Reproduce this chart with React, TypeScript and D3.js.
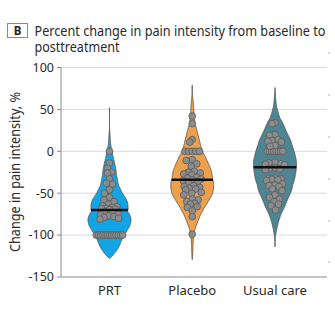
import React from "react";
import * as d3 from "d3";

const categories = ["PRT", "Placebo", "Usual care"];

const prtValues = [
  0, -14, -20, -25, -26, -33, -38, -39, -46, -50, -55, -58, -60, -63, -65, -66,
  -67, -68, -68.5, -69, -69.5, -72, -73, -75, -76, -77, -78, -79, -80, -81,
  -100, -100, -100, -100, -100, -100, -100, -100, -100, -100, -100, -100, -100,
];
const placeboValues = [
  42, 33, 14, 11, 0, 0, 0, 0, 0, -10, -11, -15, -18, -24, -25, -26, -27, -28,
  -31, -32, -33, -34, -35, -36, -37, -41, -42, -43, -44, -45, -46, -49, -50,
  -52, -57, -58, -60, -62, -63, -66, -67, -71, -78, -99,
];
const usualCareValues = [
  34, 33, 20, 19, 14, 13, 12, 11, 7, 6, 0, 0, 0, 0, 0, 0, 0, 0, -13, -14, -15,
  -15.5, -16, -20, -20.5, -21, -22, -32, -32.5, -33, -33.5, -34, -35, -39, -40,
  -41, -42, -45, -47, -52, -55, -57, -60, -63, -65, -70,
];
const seriesValues = [prtValues, placeboValues, usualCareValues];
const medians = [-70, -34, -19];
const violinExtents: [number, number][] = [
  [-128, 52],
  [-129, 79],
  [-114, 76],
];
const bandwidths = [28, 32, 40];
const yTicks = [100, 50, 0, -50, -100, -150];
const neighbourTicks = [53, 95, 137, 179, 221, 262];

const colors = ["#12a5e6", "#eea04a", "#4d8593"];
const FONT = "'Noto Sans', 'DejaVu Sans', sans-serif";

const W = 335;
const H = 335;
const plotLeft = 61;
const plotRight = 327;
const plotTop = 67.5;
const plotBottom = 277;
const maxHalf = 21.5;
const dotR = 3.4;

function epan(values: number[], bw: number, v: number) {
  let s = 0;
  for (const x of values) {
    const u = (v - x) / bw;
    if (Math.abs(u) < 1) s += 1 - u * u;
  }
  return s;
}

export default function App() {
  const y = d3.scaleLinear().domain([-150, 100]).range([plotBottom, plotTop]);
  const x = d3.scalePoint<string>().domain(categories).range([109.5, 275]);

  const violins = categories.map((cat, i) => {
    const vals = seriesValues[i];
    const bw = bandwidths[i];
    const [lo, hi] = violinExtents[i];
    const samples = d3.range(lo, hi + 0.001, 0.5);
    const dens = samples.map((v) => epan(vals, bw, v));
    const maxD = d3.max(dens) as number;
    const half = (v: number) => (epan(vals, bw, v) / maxD) * maxHalf;
    const cx = x(cat) as number;
    const pts = samples.map((v, k) => ({ v, w: (dens[k] / maxD) * maxHalf }));
    const area = d3
      .area<{ v: number; w: number }>()
      .x0((d) => cx - d.w)
      .x1((d) => cx + d.w)
      .y((d) => y(d.v))
      .curve(d3.curveLinear);

    // dots: tie rows + greedy beeswarm
    const placed: { x: number; y: number }[] = [];
    const counts = d3.rollup(vals, (g) => g.length, (d) => d);
    counts.forEach((n, v) => {
      if (n >= 4) {
        const s = n >= 6 ? 2.2 : 3.6;
        for (let k = 0; k < n; k++) {
          placed.push({ x: cx + (k - (n - 1) / 2) * s, y: y(v) });
        }
      }
    });
    const rest = vals.filter((v) => (counts.get(v) as number) < 4).sort((a, b) => b - a);
    const minDist = 5.8;
    for (const v of rest) {
      const py = y(v);
      const lim = Math.max(0, half(v) - dotR + 0.5);
      let best = 0;
      let bestScore = -1;
      let found = false;
      for (let step = 0; step <= lim * 2 + 1; step++) {
        const off = (step % 2 === 0 ? 1 : -1) * Math.ceil(step / 2) * 0.5;
        if (Math.abs(off) > lim) continue;
        const px = cx + off;
        let md = Infinity;
        for (const p of placed) md = Math.min(md, Math.hypot(p.x - px, p.y - py));
        if (md >= minDist) {
          best = off;
          found = true;
          break;
        }
        if (md > bestScore) {
          bestScore = md;
          best = off;
        }
      }
      void found;
      placed.push({ x: cx + best, y: py });
    }
    const med = medians[i];
    const mw = half(med);
    return { cat, cx, path: area(pts) as string, dots: placed, med, mw, color: colors[i] };
  });

  return (
    <svg
      width={W}
      height={H}
      style={{ position: "absolute", left: 0, top: 0, background: "#fff" }}
      fontFamily={FONT}
    >
      <rect x={0} y={0} width={W} height={H} fill="#fff" />
      {/* panel label */}
      <rect x={7.5} y={23.5} width={20} height={14} fill="#fff" stroke="#8a8a8a" strokeWidth={1} />
      <text x={17.5} y={35} textAnchor="middle" fontSize={11.5} fontWeight="bold" fill="#222">
        B
      </text>
      <text x={34.5} y={36} fontSize={15} fill="#2a2a2a" textLength={291} lengthAdjust="spacingAndGlyphs">
        Percent change in pain intensity from baseline to
      </text>
      <text x={34.5} y={52} fontSize={15} fill="#2a2a2a" textLength={85} lengthAdjust="spacingAndGlyphs">
        posttreatment
      </text>

      {/* grid */}
      {yTicks.map((t) => (
        <g key={t}>
          {t !== -150 && (
            <line x1={plotLeft} x2={plotRight} y1={y(t)} y2={y(t)} stroke="#d9d9d9" strokeWidth={1} />
          )}
          <line x1={plotLeft - 4} x2={plotLeft} y1={y(t)} y2={y(t)} stroke="#8a8a8a" strokeWidth={1} />
          <text
            x={plotLeft - 7}
            y={y(t) + 4.3}
            textAnchor="end"
            fontSize={12.5}
            fill="#2a2a2a"
          >
            {t < 0 ? `-${Math.abs(t)}` : `${t}`}
          </text>
        </g>
      ))}
      {neighbourTicks.map((t) => (
        <line key={t} x1={328} x2={330} y1={t} y2={t} stroke="#b0b0b0" strokeWidth={1} />
      ))}
      <line x1={plotLeft} x2={plotLeft} y1={plotTop} y2={plotBottom} stroke="#8a8a8a" strokeWidth={1} />
      <line x1={plotLeft} x2={plotRight} y1={plotBottom} y2={plotBottom} stroke="#8a8a8a" strokeWidth={1.2} />

      {/* y title */}
      <text
        transform={`translate(19.5,172) rotate(-90)`}
        textAnchor="middle"
        fontSize={13.5}
        fill="#2a2a2a"
        textLength={160}
        lengthAdjust="spacingAndGlyphs"
      >
        Change in pain intensity, %
      </text>

      {/* violins */}
      {violins.map((vl) => (
        <g key={vl.cat}>
          <path d={vl.path} fill={vl.color} stroke="#555" strokeWidth={0.9} />
          {vl.dots.map((d, k) => (
            <circle key={k} cx={d.x} cy={d.y} r={dotR} fill="#8c8c8c" stroke="#5c5c5c" strokeWidth={0.8} />
          ))}
          <line
            x1={vl.cx - vl.mw}
            x2={vl.cx + vl.mw}
            y1={y(vl.med)}
            y2={y(vl.med)}
            stroke="#111"
            strokeWidth={2.5}
          />
          <text x={vl.cx} y={295} textAnchor="middle" fontSize={13} fill="#2a2a2a">
            {vl.cat}
          </text>
        </g>
      ))}
    </svg>
  );
}
